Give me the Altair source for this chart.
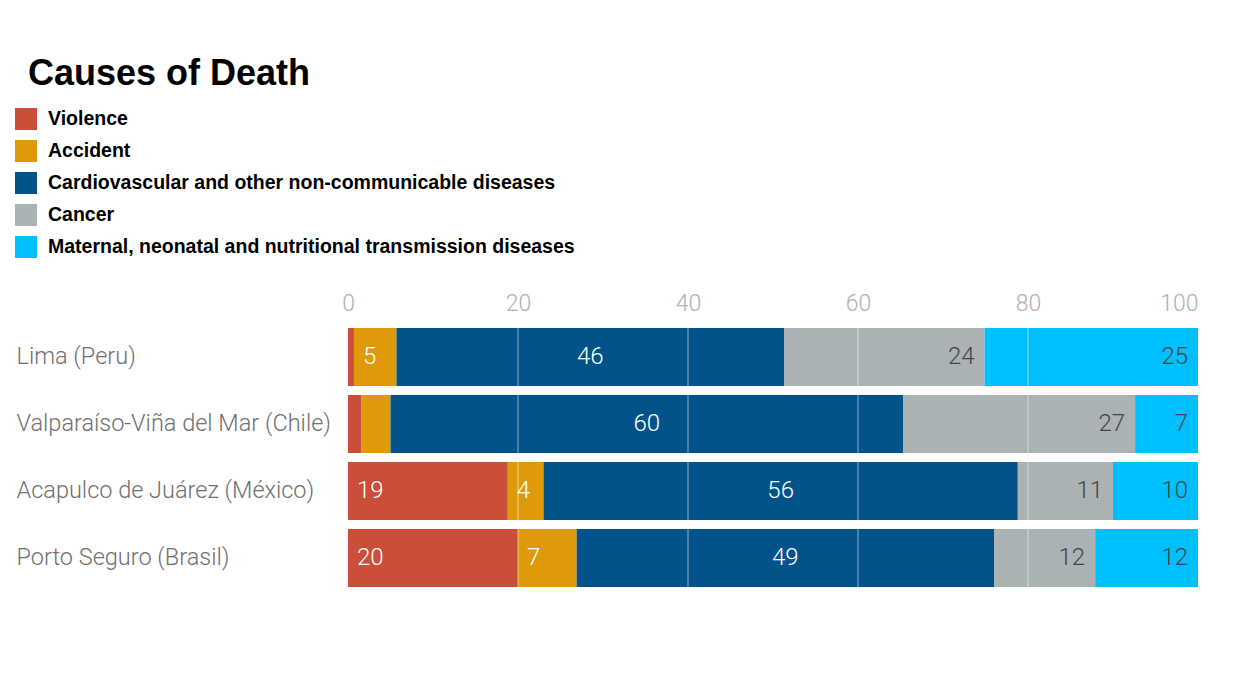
import altair as alt
import pandas as pd

cities = ["Lima (Peru)", "Valparaíso-Viña del Mar (Chile)",
          "Acapulco de Juárez (México)", "Porto Seguro (Brasil)"]
causes = ["Violence", "Accident",
          "Cardiovascular and other non-communicable diseases", "Cancer",
          "Maternal, neonatal and nutritional transmission diseases"]
colors = ["#CB4E3A", "#DF9A0B", "#02538A", "#ABB2B3", "#00BFFF"]

violence = [0.7, 1.6, 18.8, 20.0]
accident = [5.0, 3.4, 4.2, 6.9]
cardio = [45.6, 60.3, 55.8, 49.1]
cancer = [23.6, 27.3, 11.2, 11.9]
maternal = [25.1, 7.4, 10.0, 12.1]

violence_labels = ["", "", "19", "20"]
accident_labels = ["5", "", "4", "7"]
cardio_labels = ["46", "60", "56", "49"]
cancer_labels = ["24", "27", "11", "12"]
maternal_labels = ["25", "7", "10", "12"]

axis_ticks = [0, 20, 40, 60, 80, 100]
grid_ticks = [20, 40, 60, 80]

series = [violence, accident, cardio, cancer, maternal]
labels = [violence_labels, accident_labels, cardio_labels, cancer_labels, maternal_labels]
positions = ["left", "left", "center", "right", "right"]

rows = []
for i, city in enumerate(cities):
    start = 0.0
    for j, cause in enumerate(causes):
        v = series[j][i]
        rows.append(dict(city=city, cause=cause, value=v, start=start, end=start + v,
                         mid=start + v / 2, label=labels[j][i], pos=positions[j]))
        start += v
df = pd.DataFrame(rows)

COND = "Roboto"
xscale = alt.Scale(domain=[0, 100], nice=False, zero=True)
yscale = alt.Scale(domain=cities, paddingInner=0.134, paddingOuter=0)

base = alt.Chart(df)

bars = base.mark_bar().encode(
    y=alt.Y("city:N", scale=yscale, sort=cities, title=None,
            axis=alt.Axis(labelAlign="left", labelPadding=332, ticks=False, domain=False,
                          labelFont=COND, labelFontWeight=300, labelFontSize=23.5,
                          labelColor="#707070", labelLimit=400)),
    x=alt.X("start:Q", scale=xscale, title=None,
            axis=alt.Axis(orient="top", values=axis_ticks, ticks=False, domain=False, grid=False,
                          labelFont=COND, labelFontWeight=300, labelFontSize=23,
                          labelColor="#B0B0B0", labelPadding=13, labelFlush=False,
                          labelAlign={"expr": "datum.value == 100 ? 'right' : 'center'"})),
    x2="end:Q",
    color=alt.Color("cause:N", scale=alt.Scale(domain=causes, range=colors), sort=causes,
                    legend=alt.Legend(title=None, orient="none", legendX=-333, legendY=-220,
                                      symbolType="square", symbolSize=484, symbolStrokeWidth=0,
                                      symbolOpacity=1,
                                      labelFont="Liberation Sans", labelFontWeight="bold",
                                      labelFontSize=19.5, labelColor="black", labelLimit=700,
                                      labelOffset=11, rowPadding=10, padding=0)),
)

grid_df = pd.DataFrame({"v": grid_ticks})
rules = alt.Chart(grid_df).mark_rule(color="white", opacity=0.45, strokeWidth=1.2).encode(
    x=alt.X("v:Q", scale=xscale)
)

def text_layer(pos, field, align, dx, color):
    return base.transform_filter(alt.datum.pos == pos).mark_text(
        align=align, baseline="middle", dx=dx, font=COND, fontWeight=300,
        fontSize=24, color=color
    ).encode(
        y=alt.Y("city:N", scale=yscale, sort=cities),
        x=alt.X(f"{field}:Q", scale=xscale),
        text="label:N",
    )

t_left = text_layer("left", "start", "left", 9, "white")
t_center = text_layer("center", "mid", "center", 0, "white")
t_right = text_layer("right", "end", "right", -10, "#444444")

chart = alt.layer(bars, rules, t_left, t_center, t_right).properties(
    width=850, height=259,
    autosize=alt.AutoSizeParams(type="none"),
    padding={"left": 348, "top": 328, "right": 41, "bottom": 87},
    title=alt.TitleParams("Causes of Death", anchor="start", dx=-320, offset=15,
                          font="Liberation Sans", fontWeight="bold", fontSize=36,
                          color="black", frame="group"),
    background="white",
).configure_view(strokeWidth=0)

chart.save("out.html", embed_options={"renderer": "svg", "actions": False})
